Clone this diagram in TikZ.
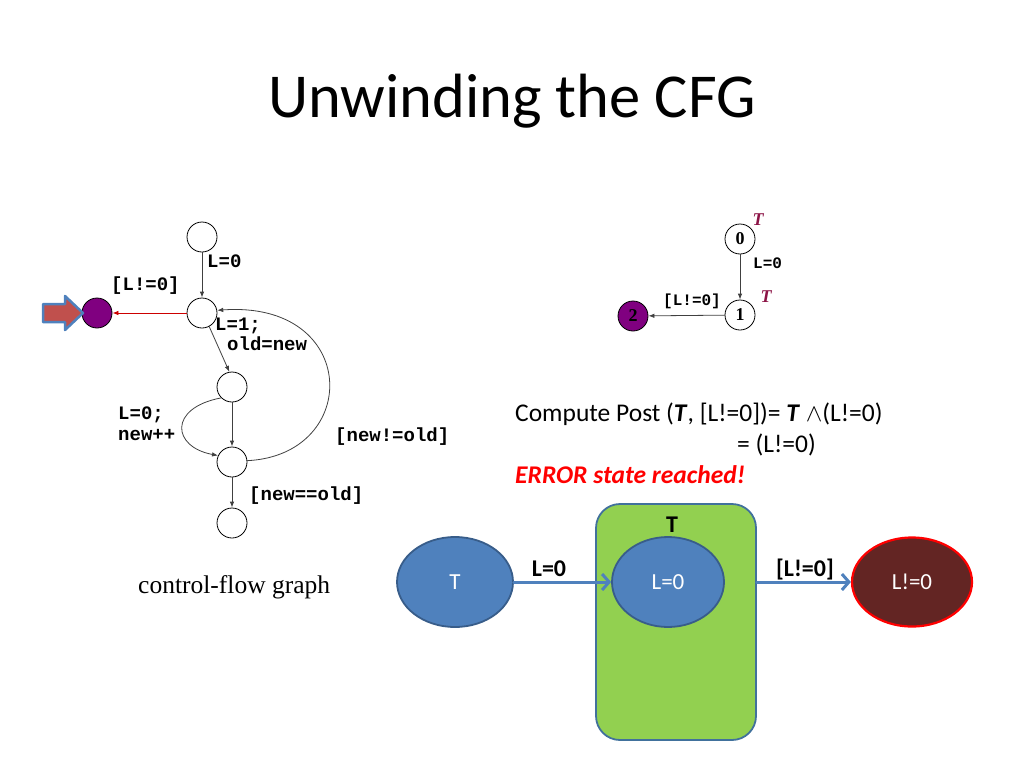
\documentclass[tikz,border=0pt]{standalone}
\usepackage{fontspec}
\setmainfont{Carlito}
\setmonofont{Liberation Mono}
\newfontfamily\timesfont{Liberation Serif}
\usetikzlibrary{arrows.meta, shapes.geometric}
\tikzset{>=latex}
\definecolor{errpurple}{HTML}{800080}
\definecolor{tred}{HTML}{8C1446}
\definecolor{blobblue}{HTML}{4F81BD}
\definecolor{blobedge}{HTML}{385D8A}
\definecolor{boxgreen}{HTML}{92D050}
\definecolor{boxedge}{HTML}{41719C}
\definecolor{errbrown}{HTML}{632523}
\definecolor{pointred}{HTML}{C0504D}
\tikzset{
	cfgstate/.style={draw, circle, minimum size=30, inner sep=0, line width=0.8},
	errstate/.style={cfgstate, fill=errpurple},
	cfgedge/.style={-{Latex[length=6pt, width=4.5pt]}, line width=0.8, black!75},
	code/.style={font=\fontsize{19}{20}\selectfont\ttfamily\bfseries, inner sep=0, anchor=base west},
	smallcode/.style={font=\fontsize{16}{18}\selectfont\ttfamily\bfseries, inner sep=0, anchor=base west},
	numstate/.style={cfgstate, font=\fontsize{18}{18}\selectfont\timesfont\bfseries},
	tmark/.style={font=\fontsize{18}{18}\selectfont\timesfont\bfseries\itshape, text=tred, inner sep=0},
	blob/.style={ellipse, draw=blobedge, line width=1.8, fill=blobblue, text=white, inner sep=0, font=\fontsize{23}{23}\selectfont},
	flow/.style={-{Straight Barb[length=7pt, width=16pt]}, line width=3, blobblue},
	flowlabel/.style={font=\fontsize{24}{24}\selectfont\bfseries, inner sep=0, anchor=base},
	slidetext/.style={font=\fontsize{25.5}{25.5}\selectfont, inner sep=0, anchor=base west}
}

\begin{document}
\begin{tikzpicture}[x=1pt, y=-1pt, line cap=round, line join=round]
	\useasboundingbox (0,0) rectangle (1024,768);
	
	% Title
	\node[anchor=base, font=\fontsize{62.5}{64}\selectfont] (title) at (512,117) {Unwinding the CFG};
	
	% Control-flow graph
	\node[cfgstate] (n0) at (202,237) {};
	\node[cfgstate] (n1) at (202,313) {};
	\node[cfgstate] (n2) at (232,387) {};
	\node[cfgstate] (n3) at (232,462) {};
	\node[cfgstate] (n4) at (232,523) {};
	\node[errstate] (err) at (97,313) {};
	
	\draw[cfgedge] (n0) -- (n1);
	\draw[cfgedge, red!80!black] (n1) -- (err);
	\draw[cfgedge] (n1.-62) -- (n2.100);
	\draw[cfgedge] (n2) -- (n3);
	\draw[cfgedge] (n2.225) .. controls (168,408) and (172,447) .. (n3.155);
	\draw[cfgedge] (n3.5) .. controls (362,455) and (360,300) .. (n1.10);
	\draw[cfgedge] (n3) -- (n4);
	
	\node[code] (lab0) at (207,267) {L=0};
	\node[code] (labne) at (111,290) {[L!=0]};
	\node[code] (lab1a) at (215,330) {L=1;};
	\node[code] (lab1b) at (227,350) {old=new};
	\node[code] (lab2a) at (118,419) {L=0;};
	\node[code] (lab2b) at (118,440) {new++};
	\node[code] (labback) at (335,441) {[new!=old]};
	\node[code] (labexit) at (249,500) {[new==old]};
	
	% Pointer to the error state
	\draw[line width=2.5, draw=blobblue, fill=pointred] (43,304) -- (65,304) -- (65,296) -- (83,313) -- (65,330) -- (65,322) -- (43,322) -- cycle;
	
	\node[slidetext, font=\fontsize{25.5}{25.5}\selectfont\timesfont] (cfgname) at (138,593) {control-flow graph};
	
	% Unwound graph
	\node[numstate] (s0) at (740,239) {0};
	\node[numstate] (s1) at (740,315) {1};
	\node[numstate, fill=errpurple] (s2) at (633,316) {2};
	\draw[cfgedge] (s0) -- (s1);
	\draw[cfgedge] (s1) -- (s2);
	\node[tmark] (t0) at (758,220) {T};
	\node[tmark] (t1) at (766,297) {T};
	\node[smallcode] (slab0) at (753,268) {L=0};
	\node[smallcode] (slab1) at (663,305) {[L!=0]};
	
	% Post computation
	\node[slidetext] (post) at (515,421) {Compute Post (\textbf{\textit{T}}, [L!=0])= \textbf{\textit{T}} $\wedge$(L!=0)};
	\node[slidetext] (post2) at (737,452) {= (L!=0)};
	\node[slidetext, font=\fontsize{25.5}{25.5}\selectfont\bfseries\itshape, text=red] (reached) at (515,483) {ERROR state reached!};
	
	% Regions
	\node[draw=boxedge, line width=1.8, fill=boxgreen, rounded corners=24, minimum width=160, minimum height=236] (box) at (676,622) {};
	\node[blob, minimum width=116, minimum height=90] (b0) at (455,582) {T};
	\node[blob, minimum width=112, minimum height=90] (b1) at (668,582) {L=0};
	\node[blob, draw=red, line width=2.2, fill=errbrown, minimum width=120, minimum height=89] (b2) at (912,582) {L!=0};
	\draw[flow] (b0) -- (b1);
	\draw[flow] (box.east |- b2) -- (b2);
	\node[flowlabel] (fl0) at (549,576) {L=0};
	\node[flowlabel] (fl1) at (805,576) {[L!=0]};
	\node[flowlabel] (boxname) at (672,532) {T};
\end{tikzpicture}
\end{document}
